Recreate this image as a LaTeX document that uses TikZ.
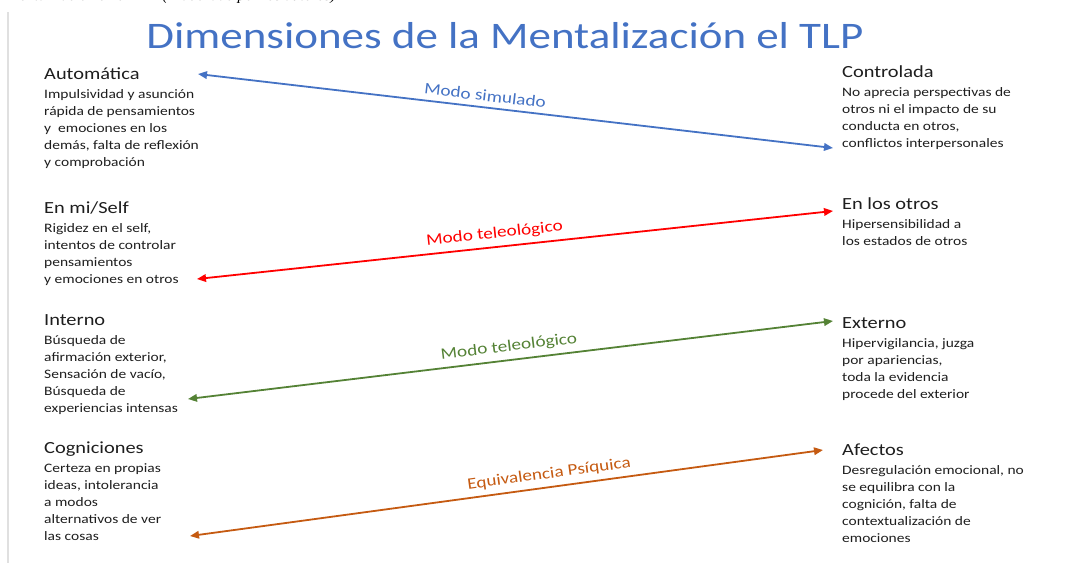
\documentclass[tikz,border=0pt]{standalone}
\usepackage{fontspec}
\setmainfont{Carlito}[FakeStretch=1.2]
\newfontfamily\capfont{Liberation Serif}[FakeStretch=1.1]
\usetikzlibrary{arrows.meta,positioning}

\definecolor{titleblue}{RGB}{68,114,196}
\definecolor{simblue}{RGB}{68,114,196}
\definecolor{telred}{RGB}{255,0,0}
\definecolor{telgreen}{RGB}{84,130,53}
\definecolor{eqorange}{RGB}{197,90,17}
\definecolor{txtgrey}{RGB}{30,30,30}

\tikzset{
  head/.style={anchor=base west, inner sep=0pt, text=txtgrey, font=\fontsize{17}{20}\selectfont},
  body/.style={anchor=north west, inner sep=0pt, align=left, text=txtgrey, font=\fontsize{12.9}{17}\selectfont},
  mode/.style={{Triangle[length=9pt,width=7.5pt]}-{Triangle[length=9pt,width=7.5pt]}, line width=1.8pt},
  lbl/.style={sloped, above=2pt, font=\fontsize{16}{19}\selectfont}
}

\begin{document}
\begin{tikzpicture}[x=1pt,y=-1pt]
\useasboundingbox (0,0) rectangle (1086,563);

% caption of the figure, cut at the top
\begin{scope}
\clip (0,0) rectangle (1086,563);
\node[anchor=base west, inner sep=0pt, font=\capfont\itshape\fontsize{14}{16}\selectfont] (cap) at (-9,0.5) {la Mentalización en el TLP (Elaborado por los autores)};
\end{scope}
\draw[line width=2pt, black!12] (8,12) -- (8,563);

\node[text=titleblue, font=\fontsize{37.5}{44}\selectfont] (title) at (505,36) {Dimensiones de la Mentalización el TLP};

% left column
\node[head] (autoH) at (44,79) {Automática};
\node[body] (autoB) at ([yshift=-10.5pt]autoH.base west) {Impulsividad y asunción\\rápida de pensamientos\\y\ \ emociones en los\\demás, falta de reflexión\\y comprobación};
\node[head] (selfH) at (44,213) {En mi/Self};
\node[body] (selfB) at ([yshift=-10.5pt]selfH.base west) {Rigidez en el self,\\intentos de controlar\\pensamientos\\y emociones en otros};
\node[head] (intH) at (44,325) {Interno};
\node[body] (intB) at ([yshift=-10.5pt]intH.base west) {Búsqueda de\\afirmación exterior,\\Sensación de vacío,\\Búsqueda de\\experiencias intensas};
\node[head] (cogH) at (44,453) {Cogniciones};
\node[body] (cogB) at ([yshift=-10.5pt]cogH.base west) {Certeza en propias\\ideas, intolerancia\\a modos\\alternativos de ver\\las cosas};

% right column
\node[head] (contrH) at (842,77) {Controlada};
\node[body] (contrB) at ([yshift=-10.5pt]contrH.base west) {No aprecia perspectivas de\\otros ni el impacto de su\\conducta en otros,\\conflictos interpersonales};
\node[head] (otrosH) at (842,209) {En los otros};
\node[body] (otrosB) at ([yshift=-10.5pt]otrosH.base west) {Hipersensibilidad a\\los estados de otros};
\node[head] (extH) at (842,328) {Externo};
\node[body] (extB) at ([yshift=-10.5pt]extH.base west) {Hipervigilancia, juzga\\por apariencias,\\toda la evidencia\\procede del exterior};
\node[head] (afeH) at (842,455) {Afectos};
\node[body] (afeB) at ([yshift=-10.5pt]afeH.base west) {Desregulación emocional, no\\se equilibra con la\\cognición, falta de\\contextualización de\\emociones};

% arrows between the poles
\coordinate (simL) at (198,74);
\coordinate (simR) at (833,148);
\coordinate (telL) at (197,279);
\coordinate (telR) at (833,211);
\coordinate (tel2L) at (188,399);
\coordinate (tel2R) at (833,321);
\coordinate (eqL) at (190,536);
\coordinate (eqR) at (823,450);

\draw[mode, simblue] (simL) -- node[lbl, pos=.45] {Modo simulado} (simR);
\draw[mode, telred] (telL) -- node[lbl, pos=.47] {Modo teleológico} (telR);
\draw[mode, telgreen] (tel2L) -- node[lbl, pos=.50] {Modo teleológico} (tel2R);
\draw[mode, eqorange] (eqL) -- node[lbl, pos=.57] {Equivalencia Psíquica} (eqR);

\end{tikzpicture}
\end{document}
